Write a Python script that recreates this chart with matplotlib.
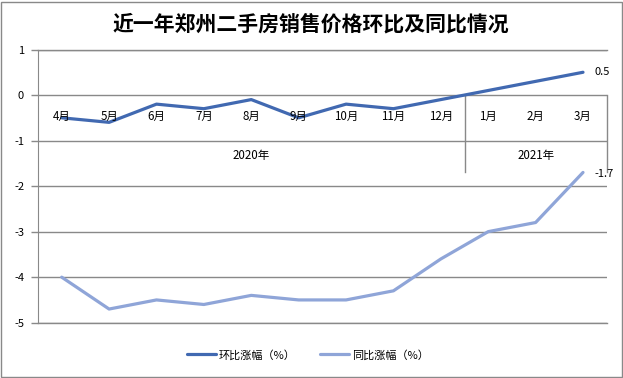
# 近一年郑州二手房销售价格环比及同比情况
import matplotlib
matplotlib.use("Agg")
import matplotlib.pyplot as plt
from matplotlib.patches import Rectangle

plt.rcParams['font.family'] = ['Noto Sans CJK SC', 'DejaVu Sans']

months = ['4月', '5月', '6月', '7月', '8月', '9月', '10月', '11月', '12月', '1月', '2月', '3月']
years = ['2020年', '2021年']
year_sizes = [9, 3]
mom = [-0.5, -0.6, -0.2, -0.3, -0.1, -0.5, -0.2, -0.3, -0.1, 0.1, 0.3, 0.5]
yoy = [-4.0, -4.7, -4.5, -4.6, -4.4, -4.5, -4.5, -4.3, -3.6, -3.0, -2.8, -1.7]
yticks = [-5, -4, -3, -2, -1, 0, 1]

grid_c = '#898989'
dark = '#4169B1'
light = '#8FA5D8'

W, H = 623, 378
fig = plt.figure(figsize=(W / 100, H / 100), dpi=100)
left, right, top, bottom = 38, 606.7, 49.5, 322.7
ax = fig.add_axes([left / W, 1 - bottom / H, (right - left) / W, (bottom - top) / H])

x = list(range(len(months)))
ax.plot(x, mom, color=dark, lw=2.3, label='环比涨幅（%）', solid_capstyle='round', zorder=3)
ax.plot(x, yoy, color=light, lw=2.3, label='同比涨幅（%）', solid_capstyle='round', zorder=3)

ax.set_xlim(-0.5, len(months) - 0.5)
ax.set_ylim(-5, 1)
ax.set_yticks(yticks)
ax.set_yticklabels([str(v) for v in yticks], fontsize=8)
ax.tick_params(axis='y', length=5, width=1, color=grid_c, pad=5)
ax.set_xticks([])
ax.grid(axis='y', color=grid_c, lw=1)
for s in ['right', 'bottom', 'top']:
    ax.spines[s].set_visible(False)
ax.spines['left'].set_color(grid_c)
for yv in (yticks[0], yticks[-1]):
    ax.axhline(yv, color=grid_c, lw=1, clip_on=False)

# category axis at y=0 with two levels
for i, m in enumerate(months):
    ax.text(i, -0.48, m, ha='center', va='center', fontsize=8.3)
start = 0
for yr, n in zip(years, year_sizes):
    ax.text(start + (n - 1) / 2, -1.32, yr, ha='center', va='center', fontsize=8.3)
    start += n
y_low = -1.69
ax.plot([year_sizes[0] - 0.5] * 2, [0, y_low], color=grid_c, lw=1, clip_on=False)
ax.plot([len(months) - 0.5] * 2, [0, y_low], color=grid_c, lw=1, clip_on=False)

# data labels on last point
ax.annotate(f'{mom[-1]}', (x[-1], mom[-1]), xytext=(8, 0), textcoords='offset points',
            ha='left', va='center', fontsize=8)
ax.annotate(f'{yoy[-1]}', (x[-1], yoy[-1]), xytext=(8, -1), textcoords='offset points',
            ha='left', va='center', fontsize=8)

fig.text(311 / W, 1 - 24 / H, '近一年郑州二手房销售价格环比及同比情况', ha='center', va='center',
         fontsize=15, fontweight='bold')

fig.legend(loc='center', bbox_to_anchor=(308 / W, 1 - 355 / H), ncol=2, frameon=False,
           fontsize=8, handlelength=2.6, handletextpad=0.3, columnspacing=2.2)

fig.add_artist(Rectangle((1 / W, 1.5 / H), 621 / W, 375 / H, transform=fig.transFigure,
                         fill=False, edgecolor=grid_c, lw=1))

fig.savefig('out.png', dpi=100)
